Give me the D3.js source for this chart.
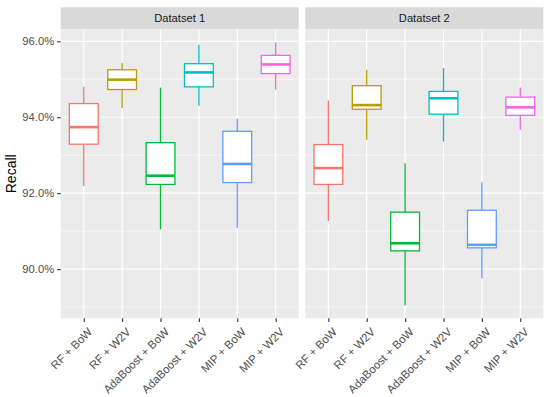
<!DOCTYPE html>
<html>
<head>
<meta charset="utf-8">
<script src="https://cdn.jsdelivr.net/npm/d3@7"></script>
<style>
  body { margin: 0; background: #fff; }
  text { font-family: "Liberation Sans", Arial, Helvetica, sans-serif; }
</style>
</head>
<body>
<div id="wrapper"></div>
<script>
'use strict';

//#region DATASET
const models = ['RF + BoW', 'RF + W2V', 'AdaBoost + BoW', 'AdaBoost + W2V', 'MIP + BoW', 'MIP + W2V'];
const panels = ['Datatset 1', 'Datatset 2'];
const colors = ['#F8766D', '#B79F00', '#00BA38', '#00BFC4', '#619CFF', '#F564E3'];

// recall in percent, one entry per model
const ymin1   = [92.19, 94.24, 91.05, 94.30, 91.09, 94.73];
const lower1  = [93.29, 94.73, 92.23, 94.80, 92.28, 95.15];
const middle1 = [93.74, 94.99, 92.46, 95.18, 92.77, 95.39];
const upper1  = [94.36, 95.25, 93.33, 95.41, 93.63, 95.63];
const ymax1   = [94.80, 95.43, 94.78, 95.91, 93.96, 95.97];

const ymin2   = [91.27, 93.41, 89.05, 93.36, 89.75, 93.67];
const lower2  = [92.23, 94.21, 90.48, 94.08, 90.56, 94.05];
const middle2 = [92.66, 94.32, 90.68, 94.50, 90.64, 94.26];
const upper2  = [93.28, 94.83, 91.50, 94.68, 91.55, 94.53];
const ymax2   = [94.44, 95.25, 92.79, 95.30, 92.29, 94.78];

const majorTicks = [90, 92, 94, 96];
const minorTicks = [89, 91, 93, 95];
//#endregion DATASET

function drawChart () {
  //#region CHART DIMENSIONS
  const dimensions = {
    width: 550,
    height: 397,
    stripTop: 7.3,
    panelTop: 29.3,
    panelBottom: 318.3,
    panelLefts: [60.7, 305.3],
    panelWidth: 238
  };
  //#endregion CHART DIMENSIONS

  const toRows = (lo, q1, med, q3, hi) => models.map((m, i) => ({
    model: m, color: colors[i], ymin: lo[i], lower: q1[i], middle: med[i], upper: q3[i], ymax: hi[i]
  }));
  const panelData = [
    toRows(ymin1, lower1, middle1, upper1, ymax1),
    toRows(ymin2, lower2, middle2, upper2, ymax2)
  ];

  //#region DRAW CANVAS
  const svg = d3.select('#wrapper').append('svg')
    .attr('width', dimensions.width)
    .attr('height', dimensions.height);
  //#endregion DRAW CANVAS

  //#region CREATE SCALES
  const allVals = panelData.flat().flatMap(d => [d.ymin, d.ymax]);
  const [lo, hi] = d3.extent(allVals);
  const pad = (hi - lo) * 0.05;
  const yScale = d3.scaleLinear()
    .domain([lo - pad, hi + pad])
    .range([dimensions.panelBottom, dimensions.panelTop]);

  const xScale = d3.scalePoint()
    .domain(models)
    .range([0, dimensions.panelWidth])
    .padding(0.6);
  const boxWidth = xScale.step() * 0.75;
  //#endregion CREATE SCALES

  //#region DRAW PANELS
  panelData.forEach((rows, p) => {
    const left = dimensions.panelLefts[p];
    const g = svg.append('g').attr('transform', `translate(${left},0)`);

    // strip
    g.append('rect')
      .attr('x', 0).attr('y', dimensions.stripTop)
      .attr('width', dimensions.panelWidth)
      .attr('height', dimensions.panelTop - dimensions.stripTop)
      .attr('fill', '#D9D9D9');
    g.append('text')
      .attr('x', dimensions.panelWidth / 2)
      .attr('y', (dimensions.stripTop + dimensions.panelTop) / 2)
      .attr('dy', '0.35em')
      .attr('text-anchor', 'middle')
      .attr('font-size', 11.2)
      .attr('fill', '#1A1A1A')
      .text(panels[p]);

    // background
    g.append('rect')
      .attr('x', 0).attr('y', dimensions.panelTop)
      .attr('width', dimensions.panelWidth)
      .attr('height', dimensions.panelBottom - dimensions.panelTop)
      .attr('fill', '#EBEBEB');

    // grid
    g.selectAll('.minor').data(minorTicks).enter().append('line')
      .attr('x1', 0).attr('x2', dimensions.panelWidth)
      .attr('y1', d => yScale(d)).attr('y2', d => yScale(d))
      .attr('stroke', '#fff').attr('stroke-width', 0.6);
    g.selectAll('.major').data(majorTicks).enter().append('line')
      .attr('x1', 0).attr('x2', dimensions.panelWidth)
      .attr('y1', d => yScale(d)).attr('y2', d => yScale(d))
      .attr('stroke', '#fff').attr('stroke-width', 1.2);
    g.selectAll('.vgrid').data(models).enter().append('line')
      .attr('x1', d => xScale(d)).attr('x2', d => xScale(d))
      .attr('y1', dimensions.panelTop).attr('y2', dimensions.panelBottom)
      .attr('stroke', '#fff').attr('stroke-width', 1.2);

    // boxes
    const boxes = g.selectAll('.box').data(rows).enter().append('g');
    boxes.append('line')
      .attr('x1', d => xScale(d.model)).attr('x2', d => xScale(d.model))
      .attr('y1', d => yScale(d.ymax)).attr('y2', d => yScale(d.upper))
      .attr('stroke', d => d.color).attr('stroke-width', 1.3);
    boxes.append('line')
      .attr('x1', d => xScale(d.model)).attr('x2', d => xScale(d.model))
      .attr('y1', d => yScale(d.lower)).attr('y2', d => yScale(d.ymin))
      .attr('stroke', d => d.color).attr('stroke-width', 1.3);
    boxes.append('rect')
      .attr('x', d => xScale(d.model) - boxWidth / 2)
      .attr('y', d => yScale(d.upper))
      .attr('width', boxWidth)
      .attr('height', d => yScale(d.lower) - yScale(d.upper))
      .attr('fill', '#fff')
      .attr('stroke', d => d.color).attr('stroke-width', 1.3);
    boxes.append('line')
      .attr('x1', d => xScale(d.model) - boxWidth / 2)
      .attr('x2', d => xScale(d.model) + boxWidth / 2)
      .attr('y1', d => yScale(d.middle)).attr('y2', d => yScale(d.middle))
      .attr('stroke', d => d.color).attr('stroke-width', 2.6);

    // x axis
    const xAxis = g.append('g')
      .attr('transform', `translate(0,${dimensions.panelBottom})`)
      .call(d3.axisBottom(xScale).tickSize(3.6).tickPadding(0).tickSizeOuter(0));
    xAxis.select('.domain').remove();
    xAxis.selectAll('.tick line').attr('stroke', '#333333').attr('stroke-width', 1.1);
    xAxis.selectAll('.tick text')
      .attr('text-anchor', 'end')
      .attr('font-size', 11.4)
      .attr('fill', '#4D4D4D')
      .attr('y', 0)
      .attr('dy', '0.71em')
      .attr('transform', 'translate(3,8.5) rotate(-45)');
  });
  //#endregion DRAW PANELS

  //#region DRAW PERIPHERALS
  const yAxis = svg.append('g')
    .attr('transform', `translate(${dimensions.panelLefts[0]},0)`)
    .call(d3.axisLeft(yScale).tickValues(majorTicks).tickSize(3.6).tickPadding(3)
      .tickFormat(d => d3.format('.1f')(d) + '%').tickSizeOuter(0));
  yAxis.select('.domain').remove();
  yAxis.selectAll('.tick line').attr('stroke', '#333333').attr('stroke-width', 1.1);
  yAxis.selectAll('.tick text')
    .attr('font-size', 11.2)
    .attr('fill', '#4D4D4D');

  svg.append('text')
    .attr('transform', `translate(15.5,${(dimensions.panelTop + dimensions.panelBottom) / 2}) rotate(-90)`)
    .attr('text-anchor', 'middle')
    .attr('font-size', 14)
    .attr('fill', '#000')
    .text('Recall');
  //#endregion DRAW PERIPHERALS
}

drawChart();
</script>
</body>
</html>
